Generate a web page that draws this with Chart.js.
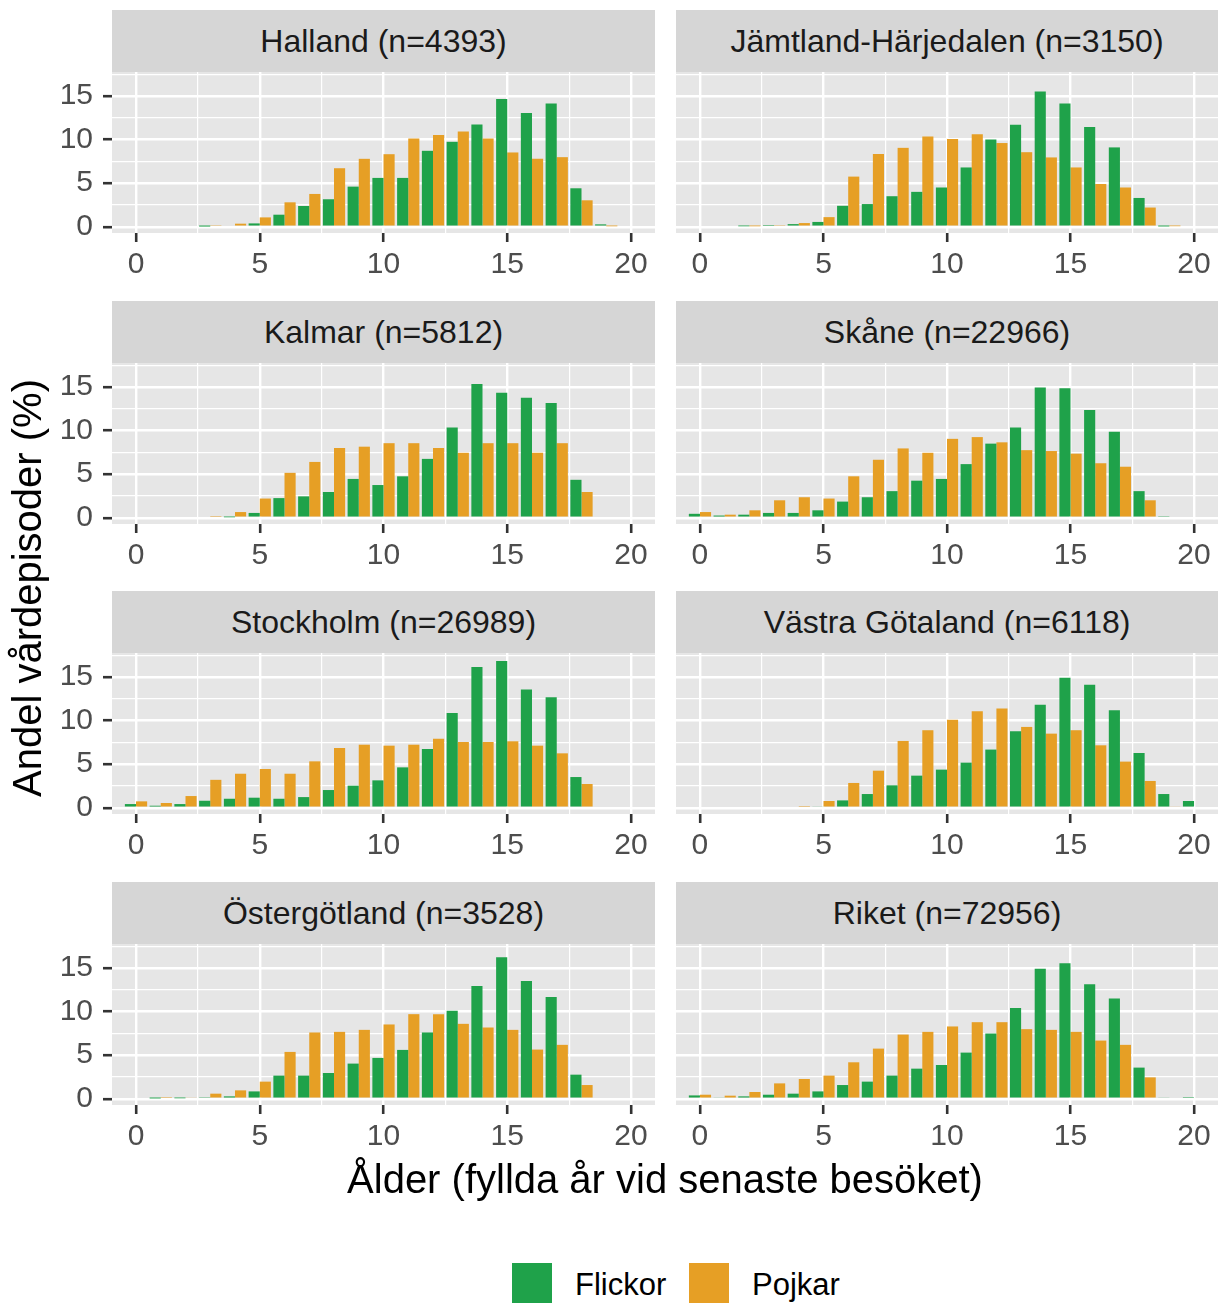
<!DOCTYPE html>
<html><head><meta charset="utf-8">
<script src="https://cdn.jsdelivr.net/npm/chart.js@4/dist/chart.umd.min.js"></script>
<style>
body{margin:0;background:#fff;width:1222px;height:1304px;position:relative;overflow:hidden;font-family:"Liberation Sans",Arial,sans-serif;}
.strip{position:absolute;background:#D6D6D6;color:#1A1A1A;font-size:32px;display:flex;align-items:center;justify-content:center;white-space:nowrap;}
.box{position:absolute;}
.txt{position:absolute;white-space:nowrap;color:#000;}
.sw{position:absolute;width:40px;height:40px;}
</style></head><body>
<script>
// ---------- data ----------
const ages = [0,1,2,3,4,5,6,7,8,9,10,11,12,13,14,15,16,17,18,19,20];
const regionNames = ["Halland","Jämtland-Härjedalen","Kalmar","Skåne","Stockholm","Västra Götaland","Östergötland","Riket"];
const regionN = [4393,3150,5812,22966,26989,6118,3528,72956];
const seriesLabels = ["Flickor","Pojkar"];

const hallandF   = [0,0,0,0.02,0,0.38,1.38,2.38,3.15,4.6,5.6,5.6,8.71,9.74,11.74,14.65,13.04,14.15,4.41,0.27,0];
const hallandP   = [0,0,0,0.1,0.35,1.07,2.8,3.76,6.71,7.79,8.32,10.13,10.51,10.93,10.13,8.52,7.79,7.98,3.03,0.05,0];
const jamtlandF  = [0,0,0.05,0.2,0.3,0.55,2.4,2.6,3.5,4.0,4.5,6.8,10.0,11.7,15.5,14.15,11.45,9.1,3.3,0.03,0];
const jamtlandP  = [0,0,0.05,0.1,0.42,1.1,5.75,8.35,9.05,10.35,10.05,10.6,9.6,8.55,7.95,6.8,4.9,4.5,2.2,0.06,0];
const kalmarF    = [0,0,0,0,0.05,0.55,2.25,2.45,2.95,4.45,3.75,4.75,6.75,10.35,15.35,14.35,13.75,13.15,4.35,0,0];
const kalmarP    = [0,0,0,0.08,0.65,2.2,5.15,6.4,8.0,8.15,8.55,8.55,8.0,7.45,8.55,8.55,7.45,8.55,2.95,0,0];
const skaneF     = [0.45,0.25,0.35,0.55,0.55,0.85,1.85,2.35,3.05,4.25,4.45,6.15,8.5,10.35,14.95,14.85,12.35,9.85,3.05,0.1,0];
const skaneP     = [0.65,0.35,0.85,2.0,2.35,2.2,4.75,6.65,7.95,7.45,9.05,9.25,8.65,7.75,7.65,7.35,6.25,5.85,2.0,0,0];
const stockholmF = [0.42,0.23,0.42,0.8,1.03,1.15,1.03,1.22,2.03,2.53,3.14,4.63,6.74,10.87,16.15,16.84,13.55,12.67,3.52,0,0];
const stockholmP = [0.73,0.54,1.34,3.2,3.9,4.44,3.9,5.32,6.85,7.23,7.12,7.23,7.92,7.54,7.54,7.62,7.12,6.24,2.72,0,0];
const vgF        = [0,0,0,0,0,0.15,0.84,1.57,2.57,3.68,4.37,5.17,6.67,8.77,11.8,14.9,14.1,11.19,6.28,1.57,0.77];
const vgP        = [0,0,0,0,0.08,0.77,2.84,4.25,7.66,8.89,10.08,11.07,11.38,9.27,8.5,8.89,7.16,5.29,3.07,0.15,0];
const ostergF    = [0,0.03,0.05,0.1,0.27,0.84,2.65,2.65,2.95,4.03,4.68,5.6,7.6,10.09,12.93,16.23,13.5,11.66,2.76,0,0];
const ostergP    = [0,0.08,0.15,0.58,0.96,1.96,5.37,7.6,7.67,7.9,8.52,9.7,9.7,8.59,8.17,7.9,5.64,6.18,1.57,0,0];
const riketF     = [0.38,0.15,0.27,0.46,0.58,0.84,1.57,1.96,2.65,3.45,3.87,5.29,7.48,10.4,14.92,15.53,13.12,11.51,3.57,0.15,0.08];
const riketP     = [0.46,0.35,0.77,1.76,2.26,2.65,4.18,5.75,7.36,7.67,8.29,8.78,8.78,7.98,7.9,7.67,6.67,6.18,2.45,0,0];

const flickorSeries = [hallandF, jamtlandF, kalmarF, skaneF, stockholmF, vgF, ostergF, riketF];
const pojkarSeries  = [hallandP, jamtlandP, kalmarP, skaneP, stockholmP, vgP, ostergP, riketP];

const xTicks = [0,2.5,5,7.5,10,12.5,15,17.5,20];
const yTicks = [0,2.5,5,7.5,10,12.5,15,17.5];
const xTitle = "Ålder (fyllda år vid senaste besöket)";
const yTitle = "Andel vårdepisoder (%)";

// ---------- style / layout ----------
const GREEN = '#1FA24A', ORANGE = '#E69F25', PANEL = '#E6E6E6';
const FAMILY = '"Liberation Sans", Arial, sans-serif';
const cols = [{left:112, w:543}, {left:676, w:542}];
const ROW0 = 72, PITCH = 290.7, PLOTH = 161, STRIPH = 62;
const P = 40, XH = 50;

const bgPlugin = {
  id:'panelbg',
  beforeDraw(chart){
    const a = chart.chartArea, ctx = chart.ctx;
    ctx.save(); ctx.fillStyle = PANEL; ctx.fillRect(a.left, a.top, a.width, a.height); ctx.restore();
  }
};
const isMajor = v => Math.abs(v % 5) < 1e-9;

regionNames.forEach((name, k) => {
  const r = Math.floor(k/2), c = k % 2;
  const col = cols[c];
  const plotTop = Math.round(ROW0 + r*PITCH);
  const stripTop = plotTop - STRIPH;
  const strip = document.createElement('div');
  strip.className = 'strip';
  strip.style.left = col.left+'px'; strip.style.top = stripTop+'px';
  strip.style.width = col.w+'px'; strip.style.height = STRIPH+'px';
  strip.textContent = name + ' (n=' + regionN[k] + ')';
  document.body.appendChild(strip);

  const YW = c === 0 ? 60 : 0;
  const W = col.w + YW + 2*P, H = PLOTH + XH + 2*P;
  const box = document.createElement('div');
  box.className = 'box';
  box.style.left = (col.left - YW - P)+'px'; box.style.top = (plotTop - P)+'px';
  box.style.width = W+'px'; box.style.height = H+'px';
  const cv = document.createElement('canvas');
  cv.width = W; cv.height = H;
  box.appendChild(cv);
  document.body.appendChild(box);

  new Chart(cv, {
    type:'bar',
    data:{datasets:[
      {label:seriesLabels[0], data:ages.map((a,i)=>({x:a,y:flickorSeries[k][i]})), backgroundColor:GREEN, borderWidth:0, categoryPercentage:0.9, barPercentage:1},
      {label:seriesLabels[1], data:ages.map((a,i)=>({x:a,y:pojkarSeries[k][i]})), backgroundColor:ORANGE, borderWidth:0, categoryPercentage:0.9, barPercentage:1}
    ]},
    options:{
      responsive:false, animation:false, devicePixelRatio:1,
      layout:{padding:P},
      plugins:{legend:{display:false}, tooltip:{enabled:false}},
      scales:{
        x:{
          type:'linear', min:-0.97, max:20.97, offset:false,
          afterBuildTicks:s=>{ s.ticks = xTicks.map(v=>({value:v})); },
          afterFit:s=>{ s.height = XH; },
          border:{display:false},
          grid:{offset:false, color:'#FFFFFF',
            lineWidth:ctx=> (ctx.tick && isMajor(ctx.tick.value)) ? 2.4 : 1.2,
            tickColor:ctx=> (ctx.tick && isMajor(ctx.tick.value)) ? '#333333' : 'rgba(0,0,0,0)',
            tickWidth:2.6, tickLength:9, drawTicks:true},
          ticks:{autoSkip:false, maxRotation:0, padding:5, color:'#4D4D4D', font:{size:30, family:FAMILY},
            callback:v=> isMajor(v) ? String(v) : ''}
        },
        y:{
          type:'linear', min:-0.72, max:17.75,
          afterBuildTicks:s=>{ s.ticks = yTicks.map(v=>({value:v})); },
          afterFit:s=>{ s.width = YW; },
          border:{display:false},
          grid:{color:'#FFFFFF',
            lineWidth:ctx=> (ctx.tick && isMajor(ctx.tick.value)) ? 2.4 : 1.2,
            tickColor:ctx=> (ctx.tick && isMajor(ctx.tick.value)) ? '#333333' : 'rgba(0,0,0,0)',
            tickWidth:2.6, tickLength:9, drawTicks: c === 0},
          ticks:{display: c === 0, autoSkip:false, padding:10, color:'#4D4D4D', font:{size:30, family:FAMILY},
            callback:v=> isMajor(v) ? String(v) : ''}
        }
      }
    },
    plugins:[bgPlugin]
  });
});

// axis titles
const xt = document.createElement('div');
xt.className = 'txt'; xt.textContent = xTitle;
xt.style.fontSize = '40px'; xt.style.lineHeight = '40px';
xt.style.left = '0px'; xt.style.width = '1330px'; xt.style.textAlign = 'center';
xt.style.top = '1159px';
document.body.appendChild(xt);

const yt = document.createElement('div');
yt.className = 'txt'; yt.textContent = yTitle;
yt.style.fontSize = '40px'; yt.style.lineHeight = '40px';
yt.style.width = '600px'; yt.style.height = '40px'; yt.style.textAlign = 'center';
yt.style.left = (27 - 300)+'px'; yt.style.top = (588 - 20)+'px';
yt.style.transform = 'rotate(-90deg)';
document.body.appendChild(yt);

// legend
[[GREEN, 512, 575, seriesLabels[0]], [ORANGE, 689, 752, seriesLabels[1]]].forEach(([col, sx, tx, lab]) => {
  const s = document.createElement('div'); s.className = 'sw';
  s.style.background = col; s.style.left = sx+'px'; s.style.top = '1263px';
  document.body.appendChild(s);
  const t = document.createElement('div'); t.className = 'txt'; t.textContent = lab;
  t.style.fontSize = '31px'; t.style.lineHeight = '31px';
  t.style.left = tx+'px'; t.style.top = '1269px';
  document.body.appendChild(t);
});
</script>
</body></html>
